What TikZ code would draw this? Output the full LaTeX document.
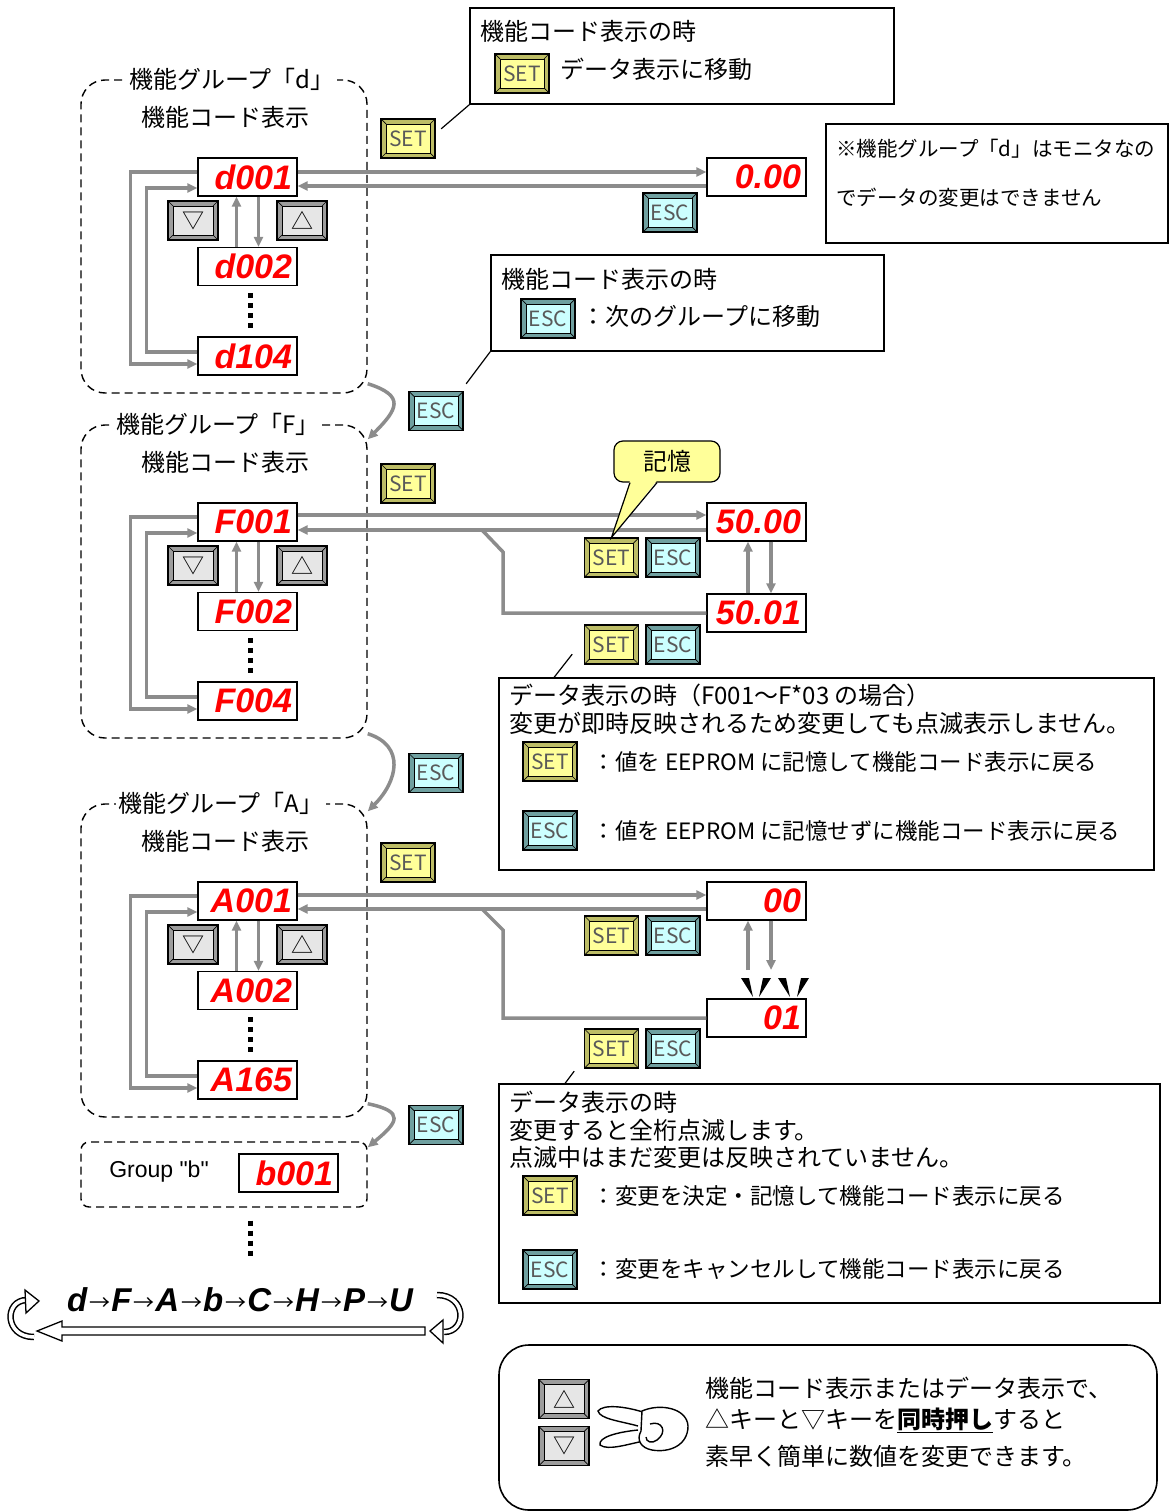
\documentclass[tikz,border=0pt]{standalone}
\usepackage{fontspec}
\setmainfont{Noto Sans CJK JP}
\newfontfamily\segfont{Liberation Sans}
\newfontfamily\latinfont{Liberation Sans}
\usepackage{xcolor}
\usepackage{tikz}
\usetikzlibrary{arrows.meta,positioning}
\tikzset{>={Triangle[length=10pt,width=9pt]}}

\definecolor{flowgray}{HTML}{8C8C8C}
\definecolor{setout}{HTML}{BDBD66}
\definecolor{setin}{HTML}{FFFF99}
\definecolor{escout}{HTML}{6FA0A0}
\definecolor{escin}{HTML}{CCFFFF}
\definecolor{arrout}{HTML}{9C9C9C}
\definecolor{arrin}{HTML}{E6E6E6}
\definecolor{segred}{HTML}{FF0000}

\newcommand{\grparrow}{\hspace{2pt}\raisebox{1pt}{\normalfont\fontsize{21}{21}\selectfont →}\hspace{1pt}}

\begin{document}
\begin{tikzpicture}[x=1pt, y=-1pt,
                    font=\fontsize{24}{28}\selectfont,
                    group/.style={draw, line width=1.4pt, dash pattern=on 8pt off 5pt,
                                  rounded corners=24pt, minimum width=286pt, minimum height=313pt},
                    grouptitle/.style={fill=white, inner sep=2pt},
                    disp/.style={draw, line width=1.3pt, fill=white, minimum width=99pt,
                                 minimum height=38pt, inner xsep=5pt, inner ysep=0pt,
                                 text width=89pt, align=right, text=segred,
                                 font=\segfont\bfseries\itshape\fontsize{34}{34}\selectfont},
                    flow/.style={draw=flowgray, line width=3.5pt},
                    dotline/.style={line width=5pt, dash pattern=on 5pt off 5pt},
                    keybase/.style 2 args={draw=black, line width=1.2pt, fill=#1,
                                 minimum width=54pt, minimum height=39pt, inner sep=0pt,
                                 text=black!65, font=\fontsize{21}{21}\selectfont,
                                 path picture={
                                   \fill[#2, draw=black, line width=0.7pt]
                                     ([shift={(5pt,-5pt)}]path picture bounding box.north west) rectangle
                                     ([shift={(-5pt,5pt)}]path picture bounding box.south east);
                                   \draw[line width=0.7pt] (path picture bounding box.north west) -- ++(5pt,-5pt);
                                   \draw[line width=0.7pt] (path picture bounding box.north east) -- ++(-5pt,-5pt);
                                   \draw[line width=0.7pt] (path picture bounding box.south west) -- ++(5pt,5pt);
                                   \draw[line width=0.7pt] (path picture bounding box.south east) -- ++(-5pt,5pt);
                                 }},
                    setkey/.style={keybase={setout}{setin}},
                    esckey/.style={keybase={escout}{escin}},
                    arrkey/.style={keybase={arrout}{arrin}, minimum width=50pt, text=black,
                                   font=\fontsize{22}{22}\selectfont},
                    note/.style={draw, line width=1.6pt, fill=white},
                    callout/.style={draw, line width=1.2pt},
                    txt/.style={anchor=west, inner sep=0pt},
                    keytxt/.style={txt, font=\fontsize{22.5}{26}\selectfont},
                    bubble/.style={draw, line width=1.2pt, fill=setin, rounded corners=9pt,
                                   minimum width=106pt, minimum height=41pt},
                    hollow/.style={line width=3.5pt, white, preaction={draw=black, line width=6.5pt}},
                   ]

\useasboundingbox (0,0) rectangle (1169,1511);

% three groups with the same layout
\foreach \g/\dy/\ttl/\tx/\ca/\cb/\cc in {d/0/機能グループ「d」/232/d001/d002/d104,
                                          F/345/機能グループ「F」/218/F001/F002/F004,
                                          A/724/機能グループ「A」/221/A001/A002/A165}{
  \node[group] (grp\g) at (224,236.5+\dy) {};
  \node[grouptitle] (ttl\g) at (\tx,79+\dy) {\ttl};
  \node (lbl\g) at (225,117+\dy) {機能コード表示};
  \node[disp] (\g1) at (247.5,177+\dy) {\ca};
  \node[disp] (\g2) at (247.5,266.5+\dy) {\cb};
  \node[disp] (\g3) at (247.5,356+\dy) {\cc};
  \node[arrkey] (dn\g) at (193,220.5+\dy) {▽};
  \node[arrkey] (up\g) at (302,220.5+\dy) {△};
  \draw[flow,->] ([xshift=-11pt]\g2.north) -- ([xshift=-11pt]\g1.south);
  \draw[flow,->] ([xshift=11pt]\g1.south) -- ([xshift=11pt]\g2.north);
  \draw[dotline] ([xshift=3pt,yshift=-7pt]\g2.south) -- ([xshift=3pt,yshift=7pt]\g3.north);
  \draw[flow,->] ([yshift=5pt]\g1.west) -- ++(-67,0) |- ([yshift=-8pt]\g3.west);
  \draw[flow,->] ([yshift=4pt]\g3.west) -- ++(-51,0) |- ([yshift=-11pt]\g1.west);
  \node[setkey] (set\g) at (408,138.5+\dy) {SET};
}

% group d
\node[disp] (dat0) at (756.5,177) {0.00};
\draw[flow,->] ([yshift=5pt]d1.east) -- ([yshift=5pt]dat0.west);
\draw[flow,->] ([yshift=-9pt]dat0.west) -- ([yshift=-9pt]d1.east);
\node[esckey] (escD) at (670,212.5) {ESC};

\node[note, minimum width=424pt, minimum height=96pt] (noteSet) at (682,56) {};
\node[txt] (noteSetA) at (480,31) {機能コード表示の時};
\node[setkey] (noteSetK) at (522,73.5) {SET};
\node[txt, right=11pt of noteSetK, yshift=4pt] (noteSetB) {データ表示に移動};
\draw[callout] (noteSet.south west) -- ++(-28,24);

\node[note, minimum width=342pt, minimum height=119pt] (noteMon) at (997,183.5) {};
\node[txt, font=\fontsize{20.5}{24}\selectfont] (noteMonA) at (836,149) {※機能グループ「d」はモニタなの};
\node[txt, font=\fontsize{20.5}{24}\selectfont] (noteMonB) at (836,198) {でデータの変更はできません};

\node[note, minimum width=393pt, minimum height=96pt] (noteEsc) at (687.5,303) {};
\node[txt] (noteEscA) at (501,279) {機能コード表示の時};
\node[esckey] (noteEscK) at (548,318.5) {ESC};
\node[txt, right=6pt of noteEscK, yshift=2pt] (noteEscB) {：次のグループに移動};
\draw[callout] (noteEsc.south west) -- ++(-24,32);

\node[esckey] (escd) at (436,411) {ESC};
\draw[flow,->] ([yshift=10pt]grpd.south east) .. controls +(38,12) and +(30,-30) .. ([yshift=-15pt]grpF.north east);

% group F
\node[disp] (datF0) at (756.5,522) {50.00};
\node[disp] (datF1) at (756.5,613) {50.01};
\draw[flow,->] ([yshift=7pt]F1.east) -- ([yshift=7pt]datF0.west);
\draw[flow,->] ([yshift=-8pt]datF0.west) -- ([yshift=-8pt]F1.east);
\draw[flow] (datF1.west) -| (503,552) -- (482,530);
\draw[flow,->] ([xshift=-8.5pt]datF1.north) -- ([xshift=-8.5pt]datF0.south);
\draw[flow,->] ([xshift=14.5pt]datF0.south) -- ([xshift=14.5pt]datF1.north);
\node[setkey] (setF1) at (611.5,557.5) {SET};
\node[esckey] (escF1) at (673,557.5) {ESC};
\node[setkey] (setF2) at (611.5,644.5) {SET};
\node[esckey] (escF2) at (673,644.5) {ESC};

\node[bubble] (mem) at (667,461.5) {記憶};
\fill[setin] ([xshift=-37pt,yshift=2pt]mem.south) -- (setF1.north) -- ([xshift=-10pt,yshift=2pt]mem.south) -- cycle;
\draw[line width=1.2pt] ([xshift=-37pt]mem.south) -- (setF1.north) -- ([xshift=-10pt]mem.south);

\node[note, minimum width=655pt, minimum height=192pt] (noteF) at (826.5,774) {};
\draw[callout] ([xshift=56pt]noteF.north west) -- ++(18,-23);
\node[txt] (noteFA) at (509,695) {データ表示の時（F001～F*03 の場合）};
\node[txt] (noteFB) at (509,723) {変更が即時反映されるため変更しても点滅表示しません。};
\node[setkey] (noteFK1) at (550,761.5) {SET};
\node[keytxt, right=15pt of noteFK1] (noteFC) {：値を EEPROM に記憶して機能コード表示に戻る};
\node[esckey] (noteFK2) at (550,830.5) {ESC};
\node[keytxt, right=15pt of noteFK2] (noteFD) {：値を EEPROM に記憶せずに機能コード表示に戻る};

\node[esckey] (escF) at (436,773) {ESC};
\draw[flow,->] ([yshift=5pt]grpF.south east) .. controls +(38,12) and +(30,-30) .. ([yshift=-8pt]grpA.north east);

% group A
\node[disp] (datA0) at (756.5,901) {00};
\node[disp] (datA1) at (756.5,1018) {01};
\draw[flow,->] ([yshift=6pt]A1.east) -- ([yshift=6pt]datA0.west);
\draw[flow,->] ([yshift=-8pt]datA0.west) -- ([yshift=-8pt]A1.east);
\draw[flow] (datA1.west) -| (503,930) -- (482,909);
\coordinate (blinkA) at (756.5,970);
\draw[flow,->] ([xshift=-8.5pt]blinkA) -- ([xshift=-8.5pt]datA0.south);
\draw[flow,->] ([xshift=14.5pt]datA0.south) -- ([xshift=14.5pt]blinkA);
\foreach \bx/\tx in {741/753, 763/759, 778/790, 801/797}
  \fill (\bx,978) -- (\bx+8,978) -- (\tx,997) -- cycle;
\node[setkey] (setA1) at (611.5,935.5) {SET};
\node[esckey] (escA1) at (673,935.5) {ESC};
\node[setkey] (setA2) at (611.5,1048.5) {SET};
\node[esckey] (escA2) at (673,1048.5) {ESC};

\node[note, minimum width=661pt, minimum height=219pt] (noteA) at (829.5,1193.5) {};
\draw[callout] ([xshift=67pt]noteA.north west) -- ++(9,-12);
\node[txt] (noteAA) at (509,1102) {データ表示の時};
\node[txt] (noteAB) at (509,1130) {変更すると全桁点滅します。};
\node[txt] (noteAC) at (509,1157) {点滅中はまだ変更は反映されていません。};
\node[setkey] (noteAK1) at (550,1195.5) {SET};
\node[keytxt, right=15pt of noteAK1] (noteAD) {：変更を決定・記憶して機能コード表示に戻る};
\node[esckey] (noteAK2) at (550,1269.5) {ESC};
\node[keytxt, right=15pt of noteAK2] (noteAE) {：変更をキャンセルして機能コード表示に戻る};

\node[esckey] (escA) at (436,1125) {ESC};

% group b
\node[group, minimum height=65pt, rounded corners=8pt] (grpb) at (224,1174.5) {};
\draw[flow,->] ([yshift=14pt]grpA.south east) .. controls +(38,8) and +(30,-25) .. ([yshift=-6pt]grpb.north east);
\node[font=\latinfont\fontsize{23}{27}\selectfont] (lblb) at (159,1172) {Group "b"};
\node[disp] (b1) at (288.5,1173) {b001};
\draw[dotline] ([xshift=26pt,yshift=-13pt]grpb.south) -- ([xshift=26pt,yshift=-48pt]grpb.south);

% group order
\node[font=\segfont\bfseries\itshape\fontsize{33}{33}\selectfont] (seq) at (240,1300)
  {d\grparrow F\grparrow A\grparrow b\grparrow C\grparrow H\grparrow P\grparrow U};
\draw[line width=1.3pt, fill=white] (425,1327) -- (62,1327) -- (62,1321) -- (37,1331)
  -- (62,1341) -- (62,1335) -- (425,1335) -- cycle;
\draw[hollow] (34,1337) .. controls (4,1337) and (4,1300) .. (27,1300);
\filldraw[fill=white, line width=1.3pt] (25,1290) -- (39,1301) -- (26,1313) -- cycle;
\draw[hollow] (437,1295) .. controls (467,1295) and (467,1332) .. (444,1332);
\filldraw[fill=white, line width=1.3pt] (443,1320) -- (430,1331) -- (443,1343) -- cycle;

% both keys at once
\node[note, rounded corners=30pt, minimum width=658pt, minimum height=165pt] (noteKey) at (828,1427.5) {};
\node[arrkey] (upK) at (564,1399) {△};
\node[arrkey] (dnK) at (564,1446) {▽};
\draw[line width=1.4pt, fill=white] (646,1413) .. controls (625,1406) and (603,1404) .. (598,1411)
  .. controls (600,1419) and (620,1421) .. (638,1426);
\draw[line width=1.4pt, fill=white] (638,1430) .. controls (618,1432) and (598,1437) .. (600,1445)
  .. controls (608,1451) and (628,1444) .. (644,1441);
\draw[line width=1.4pt, fill=white] (642,1411) .. controls (660,1403) and (687,1408) .. (688,1426)
  .. controls (688,1445) and (670,1453) .. (652,1450) .. controls (641,1448) and (636,1440) .. (641,1431)
  -- cycle;
\draw[line width=1.4pt] (650,1424) .. controls (662,1420) and (668,1432) .. (657,1440)
  .. controls (652,1444) and (646,1442) .. (646,1437);
\node[txt] (noteKeyA) at (705,1388) {機能コード表示またはデータ表示で、};
\node[txt] (noteKeyB) at (705,1420) {△キーと▽キーを\underline{\textbf{同時押し}}すると};
\node[txt] (noteKeyC) at (705,1456) {素早く簡単に数値を変更できます。};

\end{tikzpicture}
\end{document}
